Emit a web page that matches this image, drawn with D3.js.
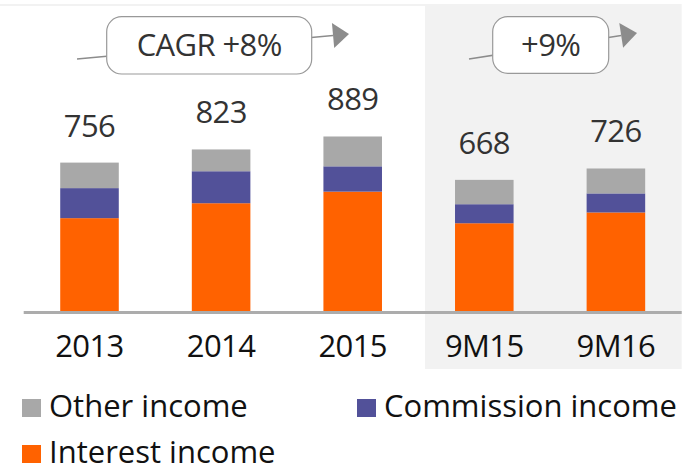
<!DOCTYPE html>
<html>
<head>
<meta charset="utf-8">
<script src="https://cdn.jsdelivr.net/npm/d3@7"></script>
<style>
  html, body { margin: 0; padding: 0; background: #fff; }
  svg { display: block; font-family: "Open Sans", "Noto Sans", sans-serif; }
</style>
</head>
<body>
<svg id="chart" width="700" height="464"></svg>
<script>
// Income breakdown (EUR m) per period
const periods = ["2013", "2014", "2015", "9M15", "9M16"];
const interestIncome = [473, 549, 608, 447, 502];
const commissionIncome = [153, 163, 129, 97, 97];
const otherIncome = [130, 111, 152, 124, 127];
const totals = [756, 823, 889, 668, 726];
const seriesNames = ["Other income", "Commission income", "Interest income"];
const growthLabels = ["CAGR +8%", "+9%"];

const colors = {
  "Interest income": "#ff6200",
  "Commission income": "#525199",
  "Other income": "#a8a8a8"
};

const svg = d3.select("#chart");

const x = d3.scaleBand()
  .domain(periods)
  .range([23.7, 681.7])
  .paddingInner(0.555)
  .paddingOuter(0.2775);

const y = d3.scaleLinear()
  .domain([0, 1000])
  .range([311, 114.7]);

// shaded panel behind the nine-month comparison
svg.append("rect")
  .attr("x", 0).attr("y", 4).attr("width", x("9M15") - 30).attr("height", 2)
  .attr("fill", "#f2f2f2");
svg.append("rect")
  .attr("x", x("9M15") - 30).attr("y", 4)
  .attr("width", 681.7 - (x("9M15") - 30)).attr("height", 365)
  .attr("fill", "#f2f2f2");

// stacked bars
const rows = periods.map((p, i) => ({
  period: p,
  "Interest income": interestIncome[i],
  "Commission income": commissionIncome[i],
  "Other income": otherIncome[i]
}));
const stack = d3.stack().keys(["Interest income", "Commission income", "Other income"]);
const layers = stack(rows);

svg.append("g").selectAll("g")
  .data(layers)
  .join("g")
  .attr("fill", d => colors[d.key])
  .selectAll("rect")
  .data(d => d)
  .join("rect")
  .attr("x", d => x(d.data.period))
  .attr("width", x.bandwidth())
  .attr("y", d => y(d[1]))
  .attr("height", d => y(d[0]) - y(d[1]));

// baseline
svg.append("rect")
  .attr("x", x.range()[0]).attr("y", 311)
  .attr("width", x.range()[1] - x.range()[0]).attr("height", 3)
  .attr("fill", "#acacac");

// totals above bars
svg.append("g").selectAll("text")
  .data(periods)
  .join("text")
  .attr("x", p => x(p) + x.bandwidth() / 2)
  .attr("y", (p, i) => y(totals[i]) - 26)
  .attr("text-anchor", "middle")
  .attr("font-size", 31)
  .attr("letter-spacing", -0.6)
  .attr("fill", "#333")
  .text((p, i) => totals[i]);

// category labels
svg.append("g").selectAll("text")
  .data(periods)
  .join("text")
  .attr("x", p => x(p) + x.bandwidth() / 2)
  .attr("y", 357)
  .attr("text-anchor", "middle")
  .attr("font-size", 31)
  .attr("letter-spacing", -0.6)
  .attr("fill", "#111")
  .text(p => p);

// growth callouts: arrow line behind a rounded label box
const callouts = [
  { text: growthLabels[0], x1: 77, y1: 59, x2: 349, y2: 34, bx: 106.7, bw: 205, by: 16.7, bh: 57.3 },
  { text: growthLabels[1], x1: 469, y1: 59, x2: 637, y2: 33, bx: 492.7, bw: 116, by: 16.7, bh: 56.6 }
];
callouts.forEach(c => {
  const g = svg.append("g");
  const ang = Math.atan2(c.y2 - c.y1, c.x2 - c.x1);
  const len = 16, half = 12.5;
  const bxp = c.x2 - len * Math.cos(ang), byp = c.y2 - len * Math.sin(ang);
  g.append("line")
    .attr("x1", c.x1).attr("y1", c.y1).attr("x2", bxp).attr("y2", byp)
    .attr("stroke", "#8c8c8c").attr("stroke-width", 1.6);
  const px = -Math.sin(ang), py = Math.cos(ang);
  g.append("path")
    .attr("d", `M${c.x2},${c.y2}L${bxp + px * half},${byp + py * half}L${bxp - px * half},${byp - py * half}Z`)
    .attr("fill", "#8c8c8c");
  g.append("rect")
    .attr("x", c.bx).attr("y", c.by).attr("width", c.bw).attr("height", c.bh)
    .attr("rx", 15).attr("ry", 15)
    .attr("fill", "#fff").attr("stroke", "#999").attr("stroke-width", 1.2);
  g.append("text")
    .attr("x", c.bx + c.bw / 2).attr("y", 55.5)
    .attr("text-anchor", "middle")
    .attr("font-size", 31).attr("letter-spacing", -0.6)
    .attr("fill", "#333")
    .text(c.text);
});

// legend
const legendPos = [
  { name: seriesNames[0], x: 22, y: 399 },
  { name: seriesNames[1], x: 357, y: 399 },
  { name: seriesNames[2], x: 22, y: 445 }
];
const lg = svg.append("g").selectAll("g").data(legendPos).join("g")
  .attr("transform", d => `translate(${d.x},${d.y})`);
lg.append("rect").attr("width", 19).attr("height", 18).attr("fill", d => colors[d.name]);
lg.append("text")
  .attr("x", 27).attr("y", 18)
  .attr("font-size", 31)
  .attr("fill", "#111")
  .text(d => d.name);
</script>
</body>
</html>
